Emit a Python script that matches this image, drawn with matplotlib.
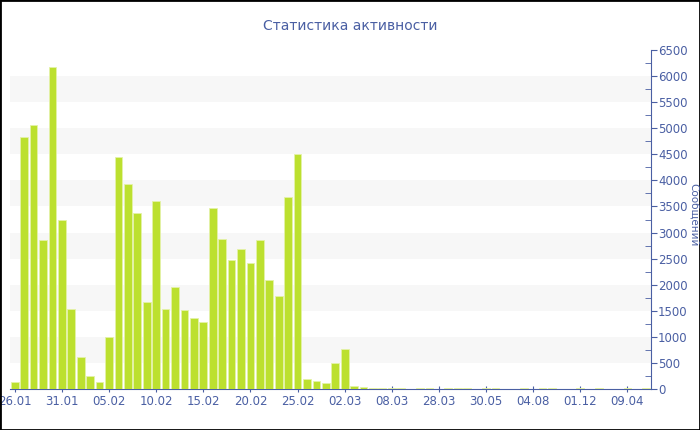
import matplotlib
matplotlib.use("Agg")
import matplotlib.pyplot as plt
from matplotlib.patches import Rectangle
import numpy as np

# dates (day.month) of days with activity
dates = ["26.01", "27.01", "28.01", "29.01", "30.01", "31.01", "01.02", "02.02", "03.02", "04.02",
         "05.02", "06.02", "07.02", "08.02", "09.02", "10.02", "11.02", "12.02", "13.02", "14.02",
         "15.02", "16.02", "17.02", "18.02", "19.02", "20.02", "21.02", "22.02", "23.02", "24.02",
         "25.02", "26.02", "27.02", "28.02", "01.03", "02.03", "03.03", "04.03", "05.03", "06.03",
         "08.03", "10.03", "14.03", "18.03", "22.03", "28.03", "05.04", "17.04", "29.04", "12.05",
         "30.05", "14.06", "25.06", "09.07", "21.07", "04.08", "27.08", "15.09", "08.10", "03.11",
         "01.12", "29.12", "21.01", "17.02", "13.03", "09.04", "02.05", "26.05"]

# messages per day
messages = [140, 4830, 5070, 2860, 6170, 3235, 1540, 615, 245, 130,
            990, 4455, 3940, 3375, 1675, 3605, 1535, 1960, 1510, 1370,
            1280, 3475, 2875, 2480, 2680, 2425, 2850, 2095, 1780, 3690,
            4500, 195, 155, 115, 500, 760, 65, 30, 22, 18,
            12, 10, 8, 10, 15, 8, 12, 22, 10, 8,
            15, 10, 8, 6, 10, 8, 12, 10, 8, 6,
            10, 8, 12, 8, 6, 10, 8, 12]

title = "Статистика активности"
ylabel = "Сообщений"

blue = "#4a5fa3"
bar_color = "#bce02f"

fig = plt.figure(figsize=(7, 4.3), dpi=100)
fig.patches.append(Rectangle((0, 0), 1, 1, transform=fig.transFigure,
                             fill=False, edgecolor="black", linewidth=2))
ax = fig.add_axes([0.0143, 0.0953, 0.9157, 0.7884])

x = np.arange(len(dates))
ax.bar(x, messages, width=0.82, color=bar_color, edgecolor="#e4f2a8", linewidth=0.6, zorder=3)

# alternating bands
for lo in range(500, 6500, 1000):
    ax.axhspan(lo, lo + 500, color="#f7f7f7", zorder=0, linewidth=0)

ax.set_xlim(-0.5, len(dates) - 0.5)
ax.set_ylim(0, 6500)

ax.yaxis.tick_right()
ax.set_yticks(np.arange(0, 6501, 500))
ax.set_yticks(np.arange(250, 6500, 500), minor=True)
ax.tick_params(axis="y", which="major", direction="out", length=4, color=blue,
               labelcolor=blue, labelsize=8.5, pad=1)
ax.tick_params(axis="y", which="minor", direction="in", length=4, color=blue)

ticks = x[::5]
ax.set_xticks(ticks)
ax.set_xticklabels([dates[i] for i in ticks])
ax.tick_params(axis="x", direction="inout", length=5, color=blue, labelcolor=blue,
               labelsize=8.5, pad=2)

for s in ["top", "left"]:
    ax.spines[s].set_visible(False)
ax.spines["bottom"].set_color(blue)
ax.spines["right"].set_color(blue)
ax.set_facecolor("white")

fig.text(0.5, 0.94, title, ha="center", va="center", color=blue, fontsize=10)
fig.text(0.991, 0.5, ylabel, ha="center", va="center", rotation=270,
         color=blue, fontsize=7.5)

fig.savefig("out.png", dpi=100)
